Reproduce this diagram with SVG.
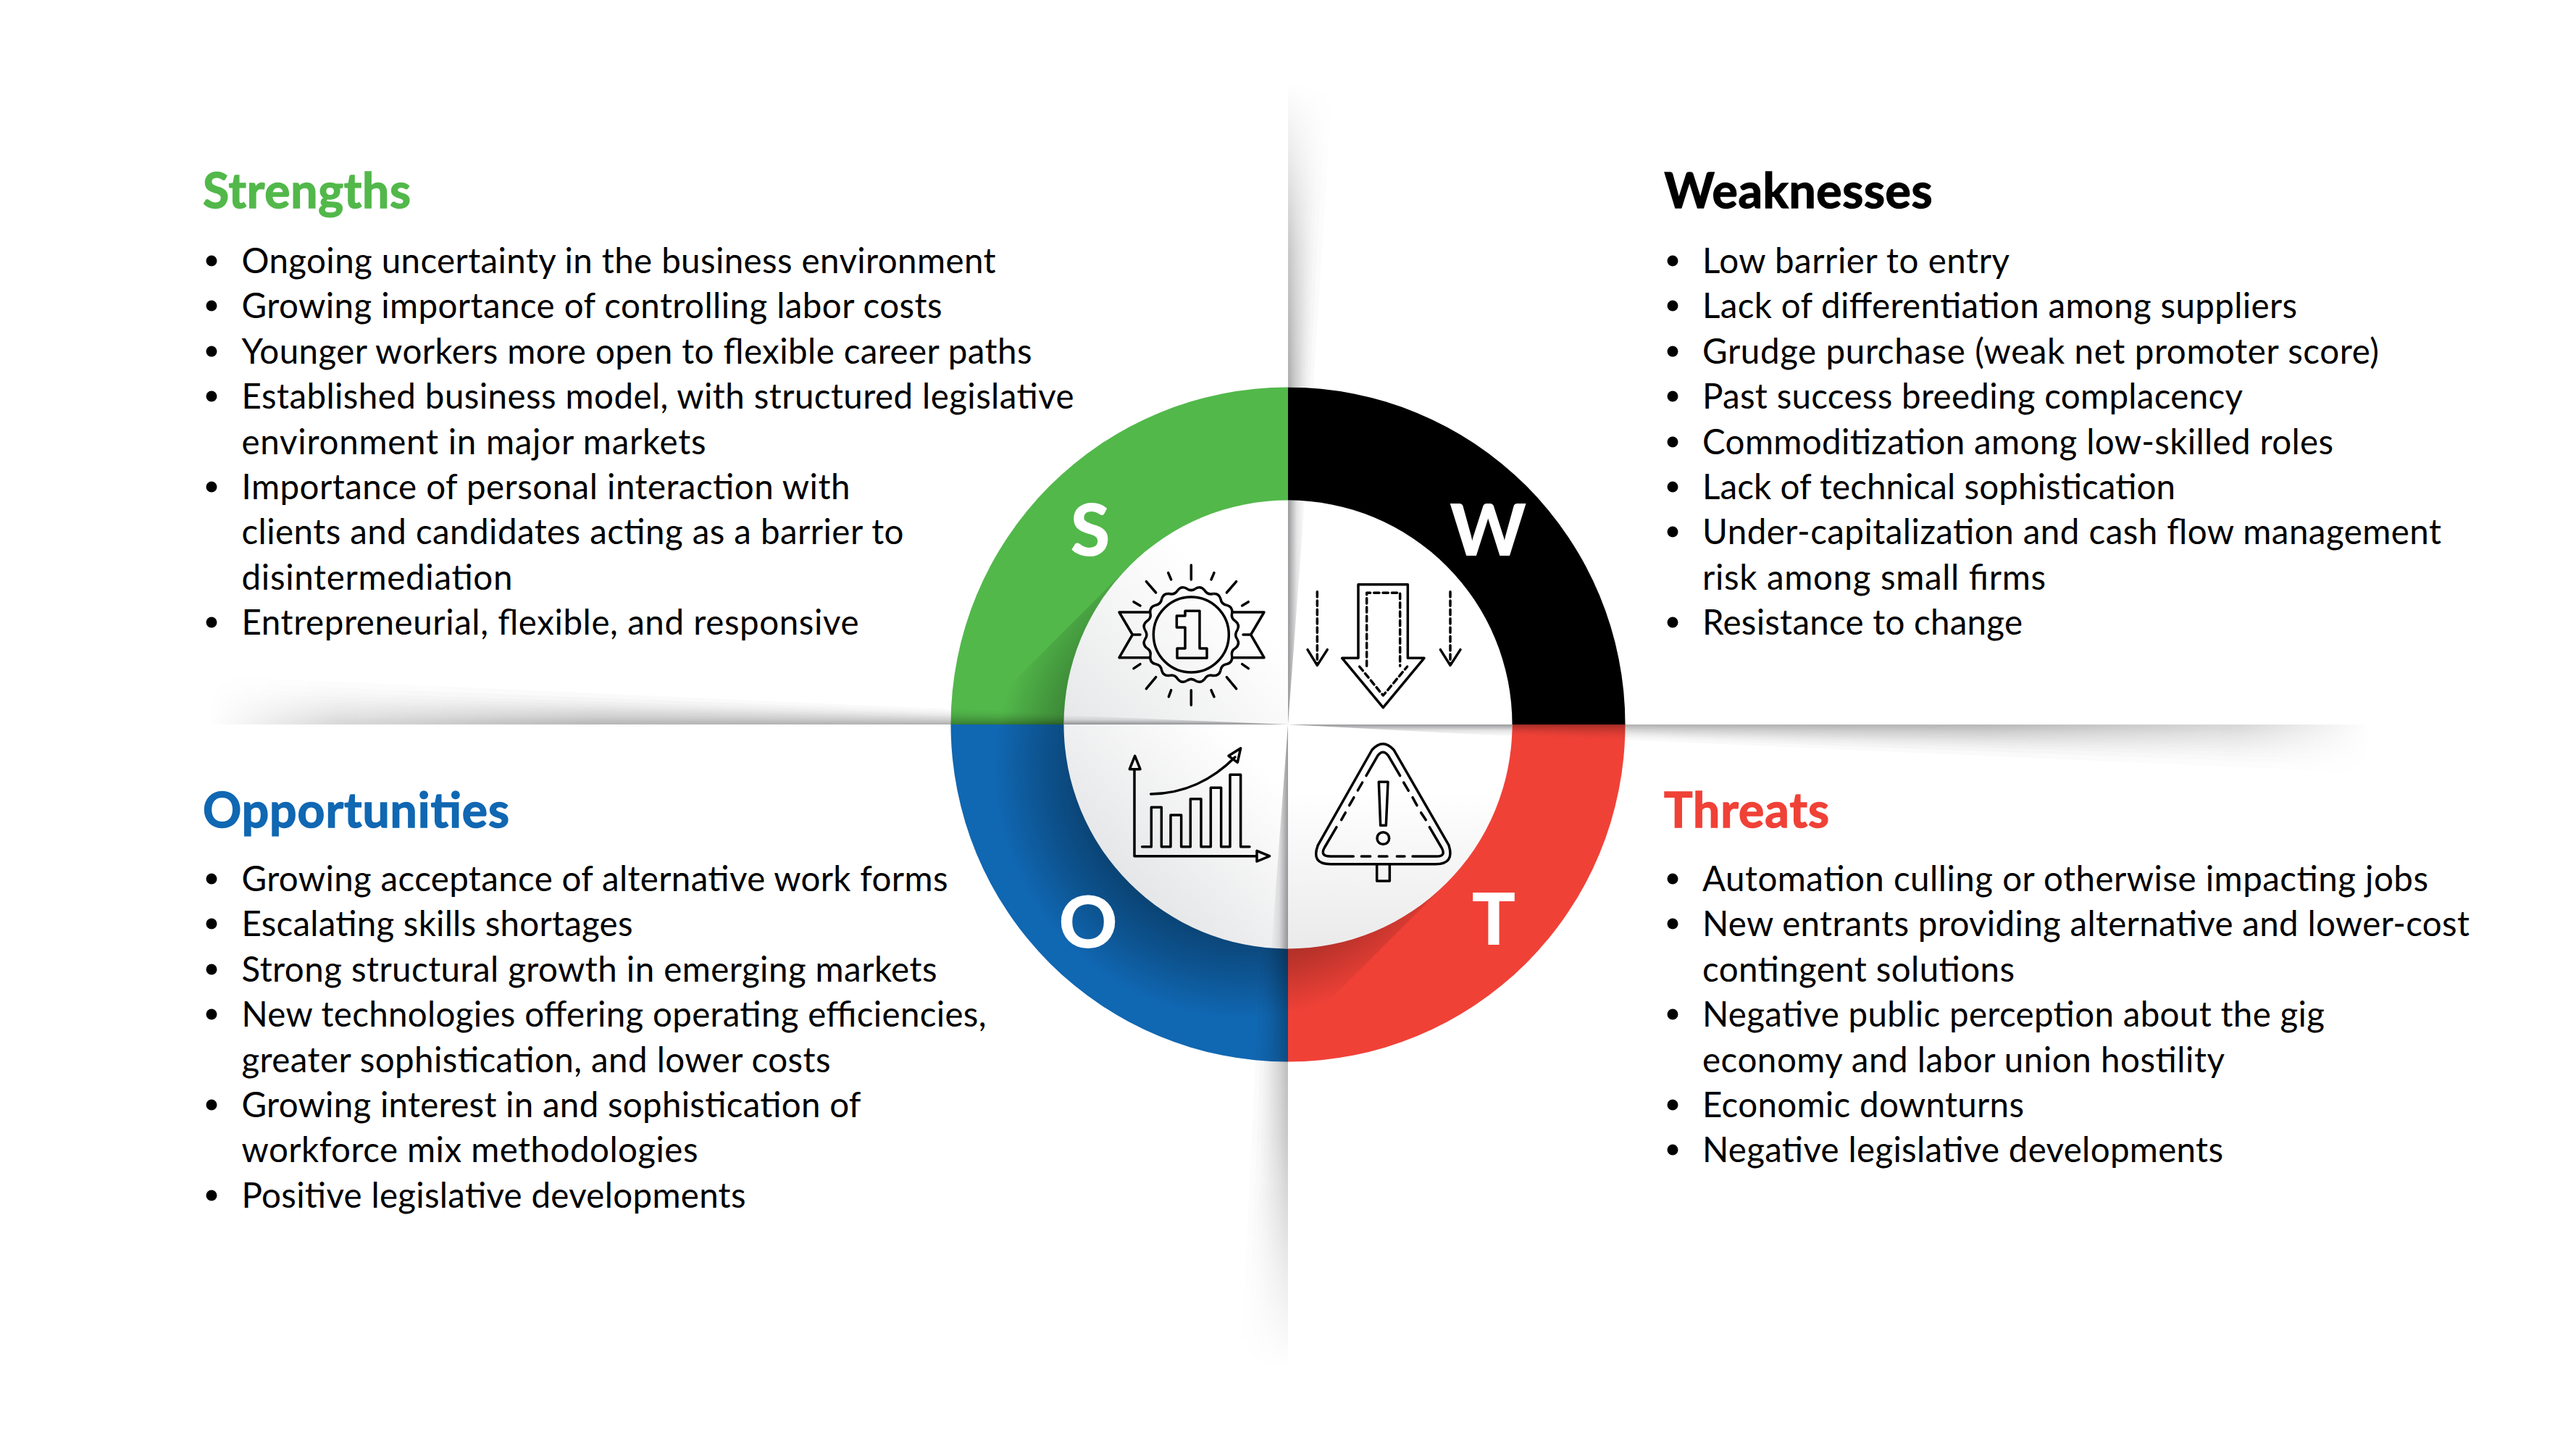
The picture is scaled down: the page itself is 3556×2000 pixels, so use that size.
<svg xmlns="http://www.w3.org/2000/svg" xmlns:xlink="http://www.w3.org/1999/xlink" width="3556" height="2000" viewBox="0 0 3556 2000">
<style>
text{font-family:"Lato","Carlito","Liberation Sans",sans-serif}
.t{font-size:66px;font-weight:700;stroke-width:1.4}
.b{font-size:47.5px;fill:#000}
.l{font-size:100px;font-weight:900;fill:#fff;text-anchor:middle}
.i{fill:none;stroke:#000;stroke-width:10.5;stroke-linecap:round;stroke-linejoin:round}
.d{stroke-dasharray:22 15}
.s{fill:#222226;fill-opacity:.027}
</style>
<defs>
<polygon id="wv" class="s" points="0,0 56,0 100,-1000 0,-1000"/>
<polygon id="wh" class="s" points="0,0 21,0 100,-1000 0,-1000"/>
<g id="lv"><use href="#wv" transform="scale(.06 1)"/><use href="#wv" transform="scale(.1 1)"/><use href="#wv" transform="scale(.14 1)"/><use href="#wv" transform="scale(.18 1)"/><use href="#wv" transform="scale(.22 1)"/><use href="#wv" transform="scale(.27 1)"/><use href="#wv" transform="scale(.32 1)"/><use href="#wv" transform="scale(.38 1)"/><use href="#wv" transform="scale(.44 1)"/><use href="#wv" transform="scale(.5 1)"/><use href="#wv" transform="scale(.57 1)"/><use href="#wv" transform="scale(.65 1)"/><use href="#wv" transform="scale(.74 1)"/><use href="#wv" transform="scale(.86 1)"/><use href="#wv"/></g>
<g id="lh"><use href="#wh" transform="scale(.06 1)"/><use href="#wh" transform="scale(.1 1)"/><use href="#wh" transform="scale(.14 1)"/><use href="#wh" transform="scale(.18 1)"/><use href="#wh" transform="scale(.22 1)"/><use href="#wh" transform="scale(.27 1)"/><use href="#wh" transform="scale(.32 1)"/><use href="#wh" transform="scale(.38 1)"/><use href="#wh" transform="scale(.44 1)"/><use href="#wh" transform="scale(.5 1)"/><use href="#wh" transform="scale(.57 1)"/><use href="#wh" transform="scale(.65 1)"/><use href="#wh" transform="scale(.74 1)"/><use href="#wh" transform="scale(.86 1)"/><use href="#wh"/></g>
<linearGradient id="gfv" gradientUnits="userSpaceOnUse" x1="0" y1="0" x2="0" y2="-1000"><stop offset="0" stop-color="#fff"/><stop offset=".45" stop-color="#aaa"/><stop offset=".75" stop-color="#444"/><stop offset="1" stop-color="#000"/></linearGradient>
<linearGradient id="gfh" gradientUnits="userSpaceOnUse" x1="0" y1="0" x2="0" y2="-1000"><stop offset="0" stop-color="#fff"/><stop offset=".55" stop-color="#ddd"/><stop offset=".85" stop-color="#777"/><stop offset="1" stop-color="#000"/></linearGradient>
<mask id="fv" maskUnits="userSpaceOnUse" x="-10" y="-1010" width="130" height="1020"><rect x="-10" y="-1010" width="130" height="1020" fill="url(#gfv)"/></mask>
<mask id="fh" maskUnits="userSpaceOnUse" x="-10" y="-1010" width="130" height="1020"><rect x="-10" y="-1010" width="130" height="1020" fill="url(#gfh)"/></mask>
<g id="foldV" mask="url(#fv)"><use href="#lv"/></g>
<g id="foldH" mask="url(#fh)"><use href="#lh"/></g>
<radialGradient id="cast" gradientUnits="userSpaceOnUse" cx="1718" cy="1060" r="345"><stop offset=".65" stop-color="#000" stop-opacity=".35"/><stop offset=".82" stop-color="#000" stop-opacity=".19"/><stop offset="1" stop-color="#000" stop-opacity="0"/></radialGradient>
<clipPath id="ringClip"><circle cx="1778" cy="1000" r="465.5"/></clipPath>
<clipPath id="discClip"><circle cx="1778" cy="1000" r="309.5"/></clipPath>
<linearGradient id="qUL" x1="1" y1="0" x2="0" y2="1"><stop offset=".35" stop-color="#fff"/><stop offset="1" stop-color="#e6e7e8"/></linearGradient>
<linearGradient id="qLL" x1="1" y1="0" x2="0" y2="1"><stop offset=".15" stop-color="#fff"/><stop offset=".85" stop-color="#dfe0e2"/></linearGradient>
<linearGradient id="qLR" x1="0" y1="0" x2="0" y2="1"><stop offset=".3" stop-color="#fff"/><stop offset="1" stop-color="#eaeaeb"/></linearGradient>
<linearGradient id="crease" x1="0" y1="0" x2="1" y2="0"><stop offset="0" stop-color="#55565a" stop-opacity=".6"/><stop offset=".5" stop-color="#55565a" stop-opacity=".16"/><stop offset="1" stop-color="#55565a" stop-opacity="0"/></linearGradient>
<polygon id="tri" points="0,0 0,-320 24,-320" fill="url(#crease)"/>
<path id="wave" d="M-12.49,-62.77Q-6.76,-68.66 0,-64Q5.78,-58.72 12.49,-62.77" class="i" style="stroke-width:3.5;stroke-linecap:butt"/>
</defs>
<rect width="3556" height="2000" fill="#fff"/>

<g id="ring">
<path id="q-s" d="M1778,1000V534.5A465.5,465.5 0 0 0 1312.5,1000Z" fill="#52b84a"/>
<path id="q-w" d="M1778,1000V534.5A465.5,465.5 0 0 1 2243.5,1000Z" fill="#000"/>
<path id="q-o" d="M1778,1000H1312.5A465.5,465.5 0 0 0 1778,1465.5Z" fill="#1067b2"/>
<path id="q-t" d="M1778,1000H2243.5A465.5,465.5 0 0 1 1778,1465.5Z" fill="#f04137"/>
<g clip-path="url(#ringClip)"><polygon points="1559,781 1159,1181 1597,1619 1997,1219" fill="url(#cast)"/></g>
</g>
<g id="folds">
<use href="#foldV" transform="translate(1778 534) scale(.62 .419)"/>
<use href="#foldV" transform="translate(1778 1309) rotate(180) scale(.66 .58)"/>
<use href="#foldH" transform="translate(1469 1000) rotate(-90) scale(.67 1.181)"/>
<use href="#foldH" transform="translate(2088 1000) rotate(90) scale(.67 1.184)"/>
</g>
<g id="disc">
<path d="M1778,1000V690.5A309.5,309.5 0 0 0 1468.5,1000Z" fill="url(#qUL)"/>
<path d="M1778,1000V690.5A309.5,309.5 0 0 1 2087.5,1000Z" fill="#fff"/>
<path d="M1778,1000H1468.5A309.5,309.5 0 0 0 1778,1309.5Z" fill="url(#qLL)"/>
<path d="M1778,1000H2087.5A309.5,309.5 0 0 1 1778,1309.5Z" fill="url(#qLR)"/>
<g clip-path="url(#discClip)">
<use href="#tri" transform="translate(1778 1000)"/>
<use href="#tri" transform="translate(1778 1000) rotate(180)"/>
<use href="#tri" transform="translate(1778 1000) rotate(-90) scale(.55 1)"/>
<use href="#tri" transform="translate(1778 1000) rotate(90) scale(.7 1)"/>
</g>
</g>

<g id="icon-medal">
<g transform="translate(1644.3 876)"><use href="#wave" transform="rotate(-5.625)"/><use href="#wave" transform="rotate(16.875)"/><use href="#wave" transform="rotate(39.375)"/><use href="#wave" transform="rotate(61.875)"/><use href="#wave" transform="rotate(84.375)"/><use href="#wave" transform="rotate(106.875)"/><use href="#wave" transform="rotate(129.375)"/><use href="#wave" transform="rotate(151.875)"/><use href="#wave" transform="rotate(174.375)"/><use href="#wave" transform="rotate(196.875)"/><use href="#wave" transform="rotate(219.375)"/><use href="#wave" transform="rotate(241.875)"/><use href="#wave" transform="rotate(264.375)"/><use href="#wave" transform="rotate(286.875)"/><use href="#wave" transform="rotate(309.375)"/><use href="#wave" transform="rotate(331.875)"/></g>
<g transform="translate(1500 760) scale(.33333)" class="i">
<circle cx="433" cy="348" r="156"/>
<path d="M408,250H468V405H498V445H375V405H408V318H373V270H408Z"/>
<path d="M260,255H135L190,348L135,443H262M190,348H222M605,255H735L680,348L735,443H605M680,348H648"/>
<path d="M433,60V120M433,578V640M247,128L287,174M620,128L580,174M247,572L287,524M620,572L580,524M338,92L350,120M528,92L516,120M195,212L222,228M670,212L644,228M195,488L222,470M670,488L644,470M340,605L350,578M528,605L516,578"/>
</g>
</g>
<g id="icon-arrow" transform="translate(1780 760) scale(.33333)" class="i">
<path d="M285,140H490V445H558L388,650L218,445H285Z"/>
<path class="d" d="M320,478V175H458V478"/>
<path class="d" d="M290,480L388,600L488,480"/>
<path class="d" d="M115,170V470M666,170V470"/>
<path d="M75,410L115,475L157,410M625,410L666,475L708,410"/>
</g>
<g id="icon-chart" transform="translate(1530 1010) scale(.33333)" class="i">
<path d="M110,100L132,155H88ZM108,155V515H612M615,493L668,515L615,537Z"/>
<path d="M140,476H178V313H220V476H258V345H302V476H340V278H384V476H424V232H467V476H504V178H548V476H585"/>
<path d="M176,258C320,255 430,200 525,105M548,68L498,100L535,127Z"/>
</g>
<g id="icon-warning" transform="translate(1790 1010) scale(.33333)" class="i">
<path d="M312,75Q357,25 402,75L630,470Q655,548 575,548H140Q58,548 88,470Z"/>
<path d="M288,182L335,100Q357,70 380,100L428,182M443,210L463,244M480,272L498,305M515,335L535,365M550,395L600,480Q620,516 580,516H480M447,516H415M375,516H340M305,516H268M235,516H140Q95,516 115,480L165,395M185,365L202,335M218,305L237,272M253,243L272,210"/>
<path d="M340,208H378L370,388H347Z"/>
<circle cx="358" cy="441" r="25"/>
<path d="M332,548V618H385V548"/>
</g>

<g id="letters">
<text class="l" x="1505" y="767">S</text>
<text class="l" x="2054" y="767">W</text>
<text class="l" x="1502" y="1308">O</text>
<text class="l" x="2062" y="1304">T</text>
</g>

<g id="strengths">
<text class="t" x="280" y="287" fill="#52b84a" stroke="#52b84a" textLength="287">Strengths</text>
<g fill="#000"><circle cx="292" cy="360" r="7.5"/><circle cx="292" cy="422" r="7.5"/><circle cx="292" cy="485" r="7.5"/><circle cx="292" cy="547" r="7.5"/><circle cx="292" cy="672" r="7.5"/><circle cx="292" cy="859" r="7.5"/></g>
<text class="b" x="333.5" y="377" textLength="1041">Ongoing uncertainty in the business environment</text>
<text class="b" x="333.5" y="439.4" textLength="967">Growing importance of controlling labor costs</text>
<text class="b" x="333.5" y="501.8" textLength="1091">Younger workers more open to flexible career paths</text>
<text class="b" x="333.5" y="564.2" textLength="1149">Established business model, with structured legislative</text>
<text class="b" x="333.5" y="626.6" textLength="641">environment in major markets</text>
<text class="b" x="333.5" y="689" textLength="840">Importance of personal interaction with</text>
<text class="b" x="333.5" y="751.4" textLength="914">clients and candidates acting as a barrier to</text>
<text class="b" x="333.5" y="813.8" textLength="374">disintermediation</text>
<text class="b" x="333.5" y="876.2" textLength="852">Entrepreneurial, flexible, and responsive</text>
</g>
<g id="weaknesses">
<text class="t" x="2297.5" y="287" fill="#000" stroke="#000" textLength="370">Weaknesses</text>
<g fill="#000"><circle cx="2309" cy="360" r="7.5"/><circle cx="2309" cy="422" r="7.5"/><circle cx="2309" cy="485" r="7.5"/><circle cx="2309" cy="547" r="7.5"/><circle cx="2309" cy="610" r="7.5"/><circle cx="2309" cy="672" r="7.5"/><circle cx="2309" cy="734" r="7.5"/><circle cx="2309" cy="859" r="7.5"/></g>
<text class="b" x="2350" y="377" textLength="424">Low barrier to entry</text>
<text class="b" x="2350" y="439.4" textLength="821">Lack of differentiation among suppliers</text>
<text class="b" x="2350" y="501.8" textLength="934">Grudge purchase (weak net promoter score)</text>
<text class="b" x="2350" y="564.2" textLength="746">Past success breeding complacency</text>
<text class="b" x="2350" y="626.6" textLength="871">Commoditization among low-skilled roles</text>
<text class="b" x="2350" y="689" textLength="653">Lack of technical sophistication</text>
<text class="b" x="2350" y="751.4" textLength="1020">Under-capitalization and cash flow management</text>
<text class="b" x="2350" y="813.8" textLength="474">risk among small firms</text>
<text class="b" x="2350" y="876.2" textLength="442">Resistance to change</text>
</g>
<g id="opportunities">
<text class="t" x="280" y="1142" fill="#1067b2" stroke="#1067b2" textLength="423">Opportunities</text>
<g fill="#000"><circle cx="292" cy="1213" r="7.5"/><circle cx="292" cy="1275" r="7.5"/><circle cx="292" cy="1338" r="7.5"/><circle cx="292" cy="1400" r="7.5"/><circle cx="292" cy="1525" r="7.5"/><circle cx="292" cy="1650" r="7.5"/></g>
<text class="b" x="333.5" y="1230" textLength="975">Growing acceptance of alternative work forms</text>
<text class="b" x="333.5" y="1292.4" textLength="540">Escalating skills shortages</text>
<text class="b" x="333.5" y="1354.8" textLength="960">Strong structural growth in emerging markets</text>
<text class="b" x="333.5" y="1417.2" textLength="1028">New technologies offering operating efficiencies,</text>
<text class="b" x="333.5" y="1479.6" textLength="813">greater sophistication, and lower costs</text>
<text class="b" x="333.5" y="1542" textLength="855">Growing interest in and sophistication of</text>
<text class="b" x="333.5" y="1604.4" textLength="630">workforce mix methodologies</text>
<text class="b" x="333.5" y="1666.8" textLength="696">Positive legislative developments</text>
</g>
<g id="threats">
<text class="t" x="2297" y="1142" fill="#f04137" stroke="#f04137" textLength="228">Threats</text>
<g fill="#000"><circle cx="2309" cy="1213" r="7.5"/><circle cx="2309" cy="1275" r="7.5"/><circle cx="2309" cy="1400" r="7.5"/><circle cx="2309" cy="1525" r="7.5"/><circle cx="2309" cy="1587" r="7.5"/></g>
<text class="b" x="2350" y="1230" textLength="1002">Automation culling or otherwise impacting jobs</text>
<text class="b" x="2350" y="1292.4" textLength="1059">New entrants providing alternative and lower-cost</text>
<text class="b" x="2350" y="1354.8" textLength="431">contingent solutions</text>
<text class="b" x="2350" y="1417.2" textLength="859">Negative public perception about the gig</text>
<text class="b" x="2350" y="1479.6" textLength="721">economy and labor union hostility</text>
<text class="b" x="2350" y="1542" textLength="444">Economic downturns</text>
<text class="b" x="2350" y="1604.4" textLength="719">Negative legislative developments</text>
</g>
</svg>
